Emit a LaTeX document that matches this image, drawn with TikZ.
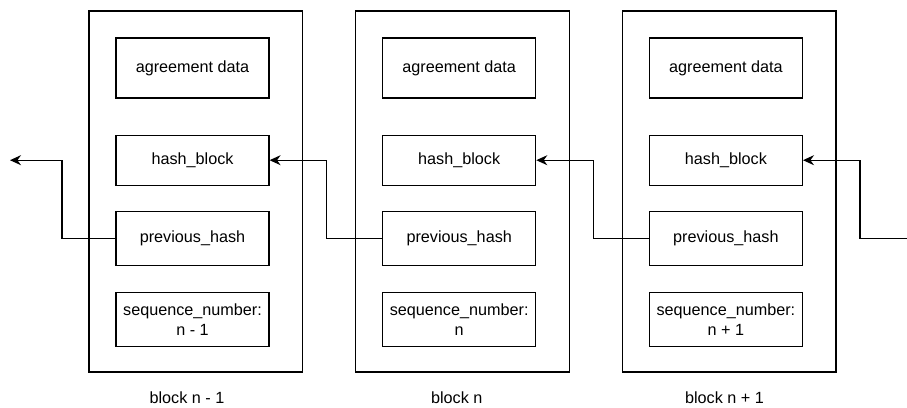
\documentclass[tikz,border=0pt]{standalone}
\usepackage{fontspec}
\setmainfont{Liberation Sans}
\usetikzlibrary{arrows.meta}
\begin{document}
\begin{tikzpicture}[x=1pt,y=-1pt,
  line width=1.2pt,
  every node/.style={font=\fontsize{16.2}{20}\selectfont, inner sep=0pt},
  outer/.style={draw, minimum width=213.7pt, minimum height=361pt},
  field/.style={draw, minimum width=153pt, align=center},
  caption/.style={anchor=base},
  link/.style={-{Stealth[length=11pt,width=10pt]}}
]
\useasboundingbox (0,0) rectangle (907,407);

% three blocks of the chain, each 266.7pt apart
\foreach \i/\dx/\lab/\seq/\cx in {1/0/{block n - 1}/{n - 1}/187,
                                  2/266.7/{block n}/{n}/456.7,
                                  3/533.4/{block n + 1}/{n + 1}/724.5}{
  \node[outer] (b\i) at (195.8+\dx,191.5) {};
  \node[field, minimum height=60pt] (agr\i) at (192.5+\dx,68) {agreement data};
  \node[field, minimum height=50pt] (hash\i) at (192.5+\dx,160.2) {hash\_block};
  \node[field, minimum height=54pt] (prev\i) at (192.5+\dx,238.7) {previous\_hash};
  \node[field, minimum height=54pt] (seq\i) at (192.5+\dx,319.2) {sequence\_number:\\\seq};
  \node[caption] (lab\i) at (\cx,403) {\lab};
}

% links from each previous_hash back to the hash_block of the block before
\coordinate (out) at (10,160.2);
\coordinate (in) at (907,238.7);
\draw[link] (prev1.west) -| (62,200) |- (out);
\draw[link] (prev2.west) -| (326.7,200) |- (hash1.east);
\draw[link] (prev3.west) -| (593.4,200) |- (hash2.east);
\draw[link] (in) -| (860,200) |- (hash3.east);
\end{tikzpicture}
\end{document}
